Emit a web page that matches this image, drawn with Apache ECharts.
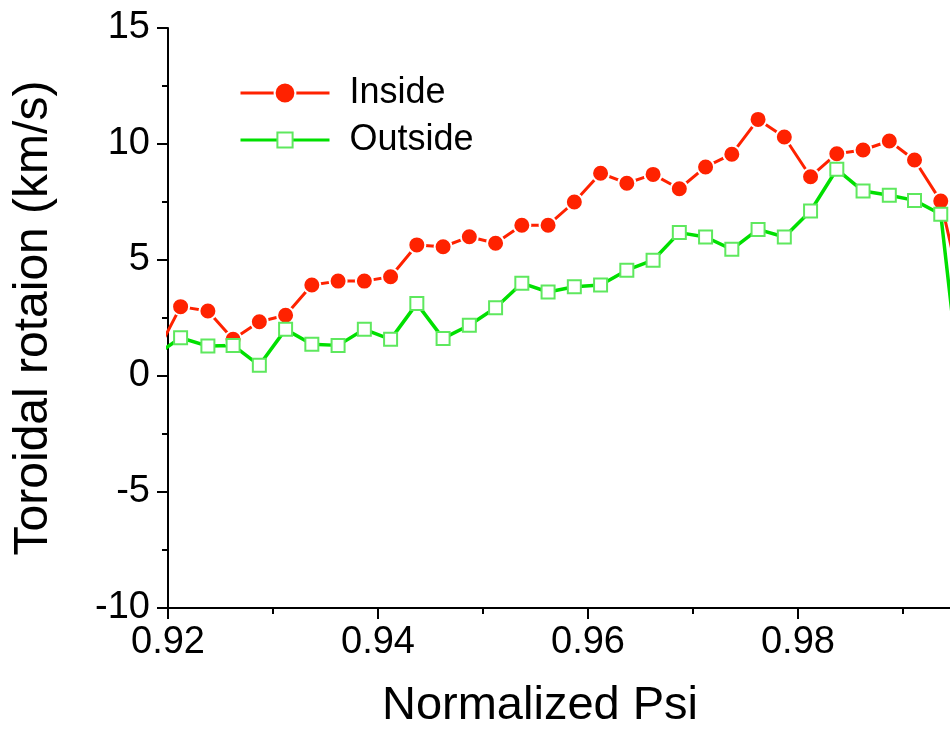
<!DOCTYPE html>
<html>
<head>
<meta charset="utf-8">
<script src="https://cdn.jsdelivr.net/npm/echarts@6/dist/echarts.min.js"></script>
<style>
  html, body { margin: 0; padding: 0; background: #fff; }
  #chart { width: 950px; height: 735px; }
</style>
</head>
<body>
<div id="chart"></div>
<script>
// normalized psi of each measurement (first and last lie outside the visible range)
const psi = [0.9188, 0.9212, 0.9238, 0.9262, 0.9287, 0.9312, 0.9337, 0.9362, 0.9387, 0.9412,
  0.9437, 0.9462, 0.9487, 0.9512, 0.9537, 0.9562, 0.9587, 0.9612, 0.9637, 0.9662,
  0.9687, 0.9712, 0.9737, 0.9762, 0.9787, 0.9812, 0.9837, 0.9862, 0.9887, 0.9911,
  0.9936, 0.9961];

const inside = [0.9, 2.99, 2.80, 1.58, 2.34, 2.62, 3.92, 4.09, 4.09, 4.28,
  5.65, 5.57, 6.00, 5.72, 6.50, 6.50, 7.50, 8.74, 8.31, 8.69,
  8.07, 9.01, 9.56, 11.06, 10.30, 8.59, 9.58, 9.74, 10.13, 9.31,
  7.54, 2.6];

const outside = [0.9, 1.65, 1.29, 1.32, 0.46, 2.01, 1.37, 1.32, 2.01, 1.58,
  3.12, 1.62, 2.19, 2.94, 4.00, 3.62, 3.85, 3.92, 4.56, 4.99,
  6.18, 5.99, 5.46, 6.32, 5.99, 7.11, 8.91, 7.97, 7.79, 7.57,
  6.97, -3.0];

const majorTicks = [0.92, 0.94, 0.96, 0.98];
const minorTicks = [0.93, 0.95, 0.97, 0.99];

const seriesNames = ['Inside', 'Outside'];

const font = '"Liberation Sans", Arial, sans-serif';
const red = '#ff2200';
const green = '#00e000';

const chart = echarts.init(document.getElementById('chart'));

function pairs(ys) {
  return psi.map((x, i) => [x, ys[i]]);
}

// one legend per series so each marker gets its own size
function legendFor(name, top, iconHeight) {
  return {
    left: 234,
    top: top,
    itemWidth: 89,
    itemHeight: iconHeight,
    lineStyle: { width: 3 },
    textStyle: { fontFamily: font, fontSize: 36, color: '#000', padding: [0, 0, 0, 15] },
    data: [name]
  };
}

chart.setOption({
  animation: false,
  // the original picture is cropped, so the plot runs right to the edge
  grid: { left: 168, right: 0, top: 28, bottom: 127 },
  legend: [
    legendFor(seriesNames[0], 70, 26),
    legendFor(seriesNames[1], 117, 19)
  ],
  xAxis: [
    {
      type: 'value',
      min: 0.92,
      max: 0.99448,
      name: 'Normalized Psi',
      nameLocation: 'middle',
      nameGap: 75,
      nameTextStyle: { fontFamily: font, fontSize: 47, color: '#000', padding: [0, 38, 0, 0] },
      axisLine: { show: true, onZero: false, lineStyle: { color: '#000', width: 2 } },
      axisTick: {
        show: true, inside: false, length: 11, customValues: majorTicks,
        lineStyle: { color: '#000', width: 2 }
      },
      axisLabel: {
        margin: 16,
        fontFamily: font,
        fontSize: 38,
        color: '#000',
        customValues: majorTicks,
        formatter: v => v.toFixed(2)
      },
      splitLine: { show: false }
    },
    {
      // minor ticks only
      type: 'value',
      position: 'bottom',
      min: 0.92,
      max: 0.99448,
      axisLine: { show: false, onZero: false },
      axisTick: {
        show: true, inside: false, length: 6, customValues: minorTicks,
        lineStyle: { color: '#000', width: 2 }
      },
      axisLabel: { show: false },
      splitLine: { show: false }
    }
  ],
  yAxis: {
    type: 'value',
    min: -10,
    max: 15,
    interval: 5,
    name: 'Toroidal rotaion (km/s)',
    nameLocation: 'middle',
    nameGap: 110,
    nameTextStyle: { fontFamily: font, fontSize: 48, color: '#000' },
    axisLine: { show: true, onZero: false, lineStyle: { color: '#000', width: 2 } },
    axisTick: { show: true, inside: false, length: 11, lineStyle: { color: '#000', width: 2 } },
    minorTick: { show: true, splitNumber: 2, length: 6, lineStyle: { color: '#000', width: 2 } },
    axisLabel: { margin: 18, fontFamily: font, fontSize: 38, color: '#000' },
    splitLine: { show: false }
  },
  series: [
    {
      name: seriesNames[0],
      type: 'line',
      xAxisIndex: 0,
      data: pairs(inside),
      clip: true,
      symbol: 'circle',
      symbolSize: 17,
      showAllSymbol: true,
      lineStyle: { color: red, width: 3 },
      itemStyle: { color: red, borderColor: '#fff', borderWidth: 2 }
    },
    {
      name: seriesNames[1],
      type: 'line',
      xAxisIndex: 0,
      data: pairs(outside),
      clip: true,
      symbol: 'rect',
      symbolSize: 13,
      showAllSymbol: true,
      lineStyle: { color: green, width: 3.5 },
      itemStyle: { color: '#fff', borderColor: '#5ee85e', borderWidth: 2 }
    }
  ]
});
</script>
</body>
</html>
